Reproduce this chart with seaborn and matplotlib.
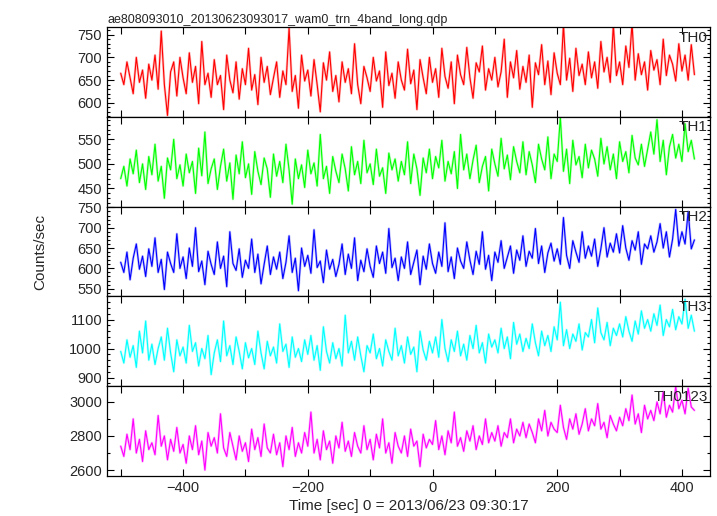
import numpy as np
import pandas as pd
import matplotlib
matplotlib.use("Agg")
import matplotlib.pyplot as plt
from matplotlib.ticker import MultipleLocator
import seaborn as sns

# light curve, 5 s bins starting at -500 s
t_start = -500
bin_size = 5

th0 = [
    665, 640, 690, 655, 620, 700, 645, 672, 610, 685,
    650, 705, 630, 758, 640, 572, 668, 690, 615, 700,
    655, 620, 710, 645, 680, 598, 735, 640, 665, 612,
    695, 640, 660, 585, 705, 650, 622, 690, 608, 675,
    640, 720, 628, 662, 596, 700, 645, 680, 618, 655,
    690, 612, 670, 640, 765, 625, 660, 588, 705, 648,
    672, 615, 695, 640, 580, 688, 650, 712, 625, 660,
    602, 690, 645, 675, 620, 730, 640, 598, 680, 655,
    625, 700, 648, 670, 590, 712, 638, 665, 610, 690,
    650, 628, 718, 642, 672, 585, 695, 655, 620, 700,
    645, 675, 612, 720, 658, 632, 690, 598, 705, 662,
    640, 722, 655, 610, 688, 668, 725, 628, 675, 650,
    700, 635, 668, 740, 612, 690, 655, 715, 630, 680,
    645, 705, 590, 688, 662, 728, 640, 692, 618, 710,
    665, 640, 772, 650, 698, 625, 720, 660, 685, 640,
    712, 655, 690, 632, 735, 668, 700, 645, 772, 660,
    690, 640, 725, 678, 775, 650, 708, 662, 690, 628,
    715, 672, 695, 640, 740, 660, 705, 685, 648, 730,
    670, 705, 650, 728, 662,
]
th1 = [
    470, 495, 455, 510, 480, 528, 462, 500, 448, 515,
    478, 540, 465, 495, 430, 512, 488, 550, 470, 498,
    455, 520, 482, 505, 440, 532, 476, 565, 460, 490,
    510, 448, 495, 530, 465, 502, 428, 518, 480, 545,
    472, 500, 438, 525, 485, 458, 512, 490, 432, 520,
    475, 505, 462, 540, 488, 418, 510, 470, 498, 452,
    528, 480, 502, 455, 560, 470, 495, 440, 515, 485,
    462, 520, 490, 445, 535, 478, 505, 460, 548, 482,
    500, 458, 530, 475, 492, 440, 522, 488, 510, 465,
    505, 478, 545, 460, 520, 490, 436, 512, 482, 530,
    470, 515, 492, 548, 465, 505, 480, 525, 450, 560,
    488, 520, 470, 508, 538, 462, 495, 515, 445, 530,
    500, 475, 552, 490, 518, 468, 535, 505, 482, 545,
    478, 525, 498, 462, 540, 510, 488, 555, 470, 520,
    505, 595, 485, 530, 460, 548, 498, 515, 472, 540,
    492, 528, 510, 475, 552, 500, 535, 488, 520, 470,
    545, 505, 525, 482, 558, 512, 498, 540, 495, 530,
    565, 520, 590, 505, 548, 478, 535, 560, 512, 540,
    505, 582, 525, 548, 510,
]
th2 = [
    615, 590, 640, 572, 625, 660, 598, 630, 580, 648,
    605, 675, 590, 622, 548, 640, 612, 590, 685, 600,
    628, 575, 650, 605, 700, 592, 618, 560, 642, 610,
    585, 665, 600, 630, 555, 690, 612, 595, 648, 578,
    620, 600, 672, 590, 635, 562, 610, 655, 585, 628,
    598, 640, 575, 615, 680, 590, 625, 545, 650, 605,
    632, 588, 695, 602, 618, 565, 645, 598, 622, 580,
    610, 660, 585, 635, 600, 675, 570, 620, 592, 648,
    605, 578, 655, 612, 640, 588, 698, 602, 625, 570,
    628, 600, 665, 585, 615, 645, 560, 630, 598, 660,
    612, 588, 640, 605, 712, 592, 628, 575, 650, 618,
    600, 665, 620, 585, 642, 610, 690, 598, 632, 570,
    640, 615, 668, 600, 628, 655, 588, 645, 620, 680,
    605, 642, 625, 698, 612, 655, 590, 638, 662, 618,
    648, 610, 725, 632, 600, 668, 640, 615, 690, 625,
    655, 630, 672, 605, 648, 700, 628, 662, 640, 685,
    638, 705, 650, 620, 668, 645, 690, 610, 660, 648,
    680, 640, 665, 710, 650, 690, 628, 672, 745, 655,
    690, 660, 740, 648, 670,
]
th3 = [
    990, 950, 1030, 970, 1010, 935, 1060, 985, 1095, 960,
    1015, 945, 1000, 1040, 960, 1070, 985, 920, 1030, 975,
    1005, 950, 1080, 990, 1020, 940, 1000, 965, 1045, 910,
    985, 1030, 955, 1095, 975, 1010, 945, 1040, 990, 930,
    1020, 968, 1000, 945, 1060, 985, 930, 1025, 975, 1005,
    950, 1085, 990, 1015, 935, 1040, 970, 1000, 955, 1030,
    980, 1045, 960, 1010, 925, 1075, 990, 950, 1020, 965,
    1000, 940, 1115, 985, 1025, 960, 1040, 975, 920, 1010,
    985, 1050, 965, 1000, 940, 1030, 990, 960, 1070, 975,
    1010, 950, 1040, 980, 1005, 920, 1060, 995, 960, 1025,
    985, 1040, 970, 1100, 1000, 955, 1030, 990, 1060, 975,
    1015, 960, 1045, 1000, 1080, 985, 1020, 950, 1050, 1005,
    1030, 985, 1070, 1000, 1040, 965, 1090, 1015, 1050, 990,
    1035, 1000, 1085, 1020, 975, 1060, 1010, 1045, 990, 1075,
    1030, 1160, 1010, 1065, 1000, 1050, 1025, 1085, 995, 1055,
    1040, 1100, 1020, 1140, 1055, 1030, 1090, 1010, 1070, 1045,
    1085, 1040, 1110, 1060, 1025, 1095, 1050, 1130, 1070, 1100,
    1060, 1120, 1080, 1150, 1045, 1100, 1075, 1135, 1065, 1110,
    1085, 1170, 1070, 1115, 1060,
]
th0123 = [
    2740, 2680, 2810, 2720, 2900, 2700, 2780, 2650, 2830, 2720,
    2760, 2690, 2920, 2740, 2800, 2660, 2780, 2710, 2850, 2700,
    2750, 2640, 2800, 2720, 2860, 2690, 2770, 2600, 2820, 2740,
    2790, 2700, 2930, 2730, 2680, 2820, 2740, 2660, 2800, 2710,
    2760, 2650, 2840, 2720, 2790, 2680, 2870, 2730, 2700, 2810,
    2690, 2760, 2620, 2800, 2720, 2850, 2680, 2760, 2700, 2820,
    2740, 2940, 2700, 2780, 2660, 2830, 2720, 2770, 2640, 2800,
    2730, 2880, 2710, 2770, 2680, 2820, 2740, 2700, 2860, 2720,
    2780, 2660, 2810, 2730, 2900, 2700, 2760, 2640, 2820, 2740,
    2700, 2800, 2680, 2840, 2740, 2770, 2620, 2810, 2730, 2780,
    2750, 2890, 2720, 2800, 2690, 2830, 2760, 2940, 2740, 2790,
    2710, 2830, 2770, 2860, 2720, 2800, 2750, 2900, 2760, 2820,
    2770, 2860, 2740, 2820, 2790, 2900, 2760, 2840, 2800, 2880,
    2790, 2870, 2820, 2760, 2900, 2830, 2950, 2800, 2880, 2840,
    2820, 2980, 2850, 2780, 2900, 2840, 2930, 2810, 2870, 2960,
    2830, 2900, 2860, 2990, 2840, 2880, 2790, 2920, 2870, 2830,
    2910, 2860, 2960, 2890, 3040, 2870, 2930, 2820, 2980, 2900,
    2950, 2890, 3000, 2930, 3060, 2910, 2980, 2940, 3090, 2960,
    3010, 2930, 3080, 2970, 2950,
]

bands = ["TH0", "TH1", "TH2", "TH3", "TH0123"]
series = [th0, th1, th2, th3, th0123]
colors = ["#ff0000", "#00ff00", "#0000ff", "#00ffff", "#ff00ff"]
ylims = [(569, 767), (413, 596), (531, 752), (870, 1180), (2565, 3092)]
ymajor = [50, 50, 50, 100, 200]
yminor = [10, 10, 10, 20, 100]

time = t_start + bin_size * np.arange(len(th0))

sns.set_style("ticks")
plt.rcParams["font.family"] = ["Liberation Sans", "DejaVu Sans"]

fig, axes = plt.subplots(5, 1, figsize=(7.17, 5.16), dpi=100, sharex=True)
fig.subplots_adjust(left=107 / 717, right=710 / 717, bottom=1 - 476 / 516,
                    top=1 - 27 / 516, hspace=0)

for ax, name, vals, col, yl, mj, mn in zip(axes, bands, series, colors, ylims, ymajor, yminor):
    df = pd.DataFrame({"time": time, "rate": vals})
    # pale wide copy underneath mimics the error-bar haze of the original
    sns.lineplot(data=df, x="time", y="rate", ax=ax, color=col, lw=1.8, alpha=0.25)
    sns.lineplot(data=df, x="time", y="rate", ax=ax, color=col, lw=0.8)
    ax.set_ylim(*yl)
    ax.set_xlim(-522, 445)
    ax.yaxis.set_major_locator(MultipleLocator(mj))
    ax.yaxis.set_minor_locator(MultipleLocator(mn))
    ax.xaxis.set_major_locator(MultipleLocator(200))
    ax.xaxis.set_minor_locator(MultipleLocator(100))
    ax.tick_params(which="both", direction="in", top=True, right=True,
                   labelsize=10.5, width=0.8, color="black")
    ax.tick_params(which="major", length=5)
    ax.tick_params(axis="y", which="minor", length=2.5)
    ax.tick_params(axis="x", which="minor", length=5)
    for s in ax.spines.values():
        s.set_linewidth(0.9)
        s.set_color("black")
    ax.set_xlabel("")
    ax.set_ylabel("")
    ax.text(0.996, 0.96, name, transform=ax.transAxes, ha="right", va="top",
            fontsize=11)

axes[-1].set_xlabel("Time [sec] 0 = 2013/06/23 09:30:17", fontsize=11, labelpad=3)
axes[0].set_title("ae808093010_20130623093017_wam0_trn_4band_long.qdp",
                  loc="left", fontsize=9, pad=3)
fig.text(40 / 717, 1 - 252 / 516, "Counts/sec", rotation=90, ha="center",
         va="center", fontsize=11)

fig.savefig("out.png", dpi=100)
